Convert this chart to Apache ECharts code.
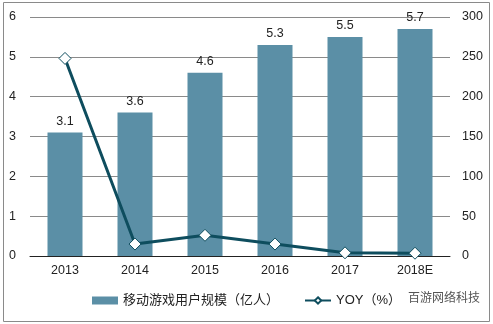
<!DOCTYPE html>
<html>
<head>
<meta charset="utf-8">
<script src="https://cdn.jsdelivr.net/npm/echarts@6/dist/echarts.min.js"></script>
<style>
  html, body { margin: 0; padding: 0; background: #fff; }
  #chart { width: 493px; height: 324px; }
</style>
</head>
<body>
<div id="chart"></div>
<script>
// Mobile game users (100 million) and year-over-year growth (%)
const years = ['2013', '2014', '2015', '2016', '2017', '2018E'];
const users = [3.1, 3.6, 4.6, 5.3, 5.5, 5.7];
const yoy = [248, 15, 26, 15, 4, 3.5];
const leftTicks = [0, 1, 2, 3, 4, 5, 6];
const rightTicks = [0, 50, 100, 150, 200, 250, 300];

const font = '"Liberation Sans", "Noto Sans CJK SC", sans-serif';
const chart = echarts.init(document.getElementById('chart'));

chart.setOption({
  animation: false,
  backgroundColor: '#fff',
  textStyle: { fontFamily: font },
  grid: { left: 30, right: 43, top: 17, bottom: 68 },
  legend: {
    bottom: 17,
    left: 92,
    padding: 0,
    itemGap: 25,
    itemWidth: 26,
    itemHeight: 8,
    textStyle: { fontSize: 13, color: '#222', fontFamily: font },
    data: [
      { name: '移动游戏用户规模（亿人）', icon: 'rect' },
      { name: 'YOY（%）' }
    ]
  },
  xAxis: {
    type: 'category',
    data: years,
    axisLine: { lineStyle: { color: '#222', width: 1 } },
    axisTick: { show: false },
    axisLabel: { fontSize: 12.5, color: '#222', margin: 8 }
  },
  yAxis: [
    {
      type: 'value',
      min: leftTicks[0],
      max: leftTicks[leftTicks.length - 1],
      interval: 1,
      axisLine: { show: false },
      axisTick: { show: false },
      axisLabel: { fontSize: 12.5, color: '#222', margin: 14 },
      splitLine: { lineStyle: { color: '#8a8a8a', width: 1 } }
    },
    {
      type: 'value',
      min: rightTicks[0],
      max: rightTicks[rightTicks.length - 1],
      interval: 50,
      axisLine: { show: false },
      axisTick: { show: false },
      axisLabel: { fontSize: 12.5, color: '#222', margin: 12 },
      splitLine: { show: false }
    }
  ],
  series: [
    {
      name: '移动游戏用户规模（亿人）',
      type: 'bar',
      data: users,
      barWidth: '50%',
      itemStyle: { color: '#5b8fa6' },
      label: {
        show: true,
        position: 'top',
        distance: 5,
        fontSize: 12.5,
        color: '#222'
      }
    },
    {
      name: 'YOY（%）',
      type: 'line',
      yAxisIndex: 1,
      data: yoy,
      lineStyle: { color: '#0e4d5e', width: 3 },
      itemStyle: { color: '#ffffff', borderColor: '#0e4d5e', borderWidth: 1 },
      symbol: 'diamond',
      symbolSize: 12,
      showSymbol: true,
      z: 5
    }
  ],
  graphic: [
    {
      type: 'rect',
      shape: { x: 3.5, y: 2.5, width: 486, height: 319 },
      style: { fill: 'none', stroke: '#8a8a8a', lineWidth: 1 },
      silent: true
    },
    {
      type: 'text',
      left: 408,
      top: 293,
      style: {
        text: '百游网络科技',
        fontSize: 12,
        fill: '#555',
        fontFamily: font
      },
      silent: true
    }
  ]
});
</script>
</body>
</html>
